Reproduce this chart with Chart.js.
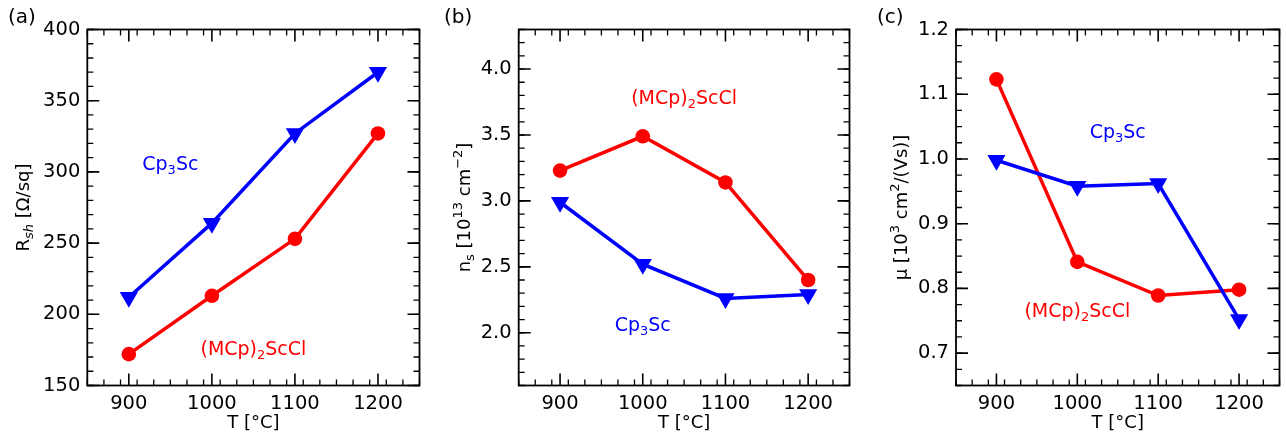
<!DOCTYPE html>
<html>
<head>
<meta charset="utf-8">
<script src="https://cdn.jsdelivr.net/npm/chart.js@4.4.1/dist/chart.umd.min.js"></script>
<style>
  body { margin: 0; background: #fff; overflow: hidden; width: 1286px; height: 436px; position: relative; }
  canvas { position: absolute; top: 0; }
</style>
</head>
<body>
<canvas id="chartA" width="430" height="436" style="left:0px"></canvas>
<canvas id="chartB" width="430" height="436" style="left:430px"></canvas>
<canvas id="chartC" width="430" height="436" style="left:860px"></canvas>
<script>
// growth temperature (°C)
const temps = [900, 1000, 1100, 1200];
// (a) sheet resistance, Ω/sq
const rshCp3Sc = [212, 264, 327, 370];
const rshMCp = [172, 213, 253, 327];
// (b) sheet carrier density, 10^13 cm^-2
const nsCp3Sc = [2.99, 2.52, 2.26, 2.29];
const nsMCp = [3.23, 3.49, 3.14, 2.40];
// (c) mobility, 10^3 cm^2/(Vs)
const muCp3Sc = [0.998, 0.958, 0.962, 0.752];
const muMCp = [1.123, 0.841, 0.789, 0.798];

const xTicks = [900, 1000, 1100, 1200];
const rshTicks = [150, 200, 250, 300, 350, 400];
const nsTicks = [2.0, 2.5, 3.0, 3.5, 4.0];
const muTicks = [0.7, 0.8, 0.9, 1.0, 1.1, 1.2];

const RED = '#ff0000';
const BLUE = '#0000ff';
const FONT = '"DejaVu Sans", sans-serif';

Chart.defaults.font.family = FONT;
Chart.defaults.color = '#000';

// draws text made of [string, mode] pieces, mode: '', 'sub', 'subi', 'sup'
function richText(ctx, parts, x, y, size, color, rot) {
  ctx.save();
  ctx.translate(x, y);
  if (rot) ctx.rotate(rot);
  ctx.fillStyle = color;
  ctx.textBaseline = 'middle';
  const fontFor = m => (m === 'subi' ? 'italic ' : '') + (m ? Math.round(size * 0.7) : size) + 'px ' + FONT;
  let w = 0;
  for (const [t, m] of parts) { ctx.font = fontFor(m); w += ctx.measureText(t).width; }
  let cx = -w / 2;
  for (const [t, m] of parts) {
    ctx.font = fontFor(m);
    let dy = 0;
    if (m === 'sub' || m === 'subi') dy = size * 0.3;
    if (m === 'sup') dy = -size * 0.35;
    ctx.textAlign = 'left';
    ctx.fillText(t, cx, dy);
    cx += ctx.measureText(t).width;
  }
  ctx.restore();
}

const framePlugin = {
  id: 'frame',
  afterDraw(chart, args, opts) {
    const ctx = chart.ctx;
    const a = chart.chartArea;
    const xs = chart.scales.x, ys = chart.scales.y;
    ctx.save();
    ctx.strokeStyle = '#000';
    ctx.lineWidth = 1.3;
    ctx.beginPath();
    const minorX = Math.round((xs.max - xs.min) / opts.xMinor);
    for (let i = 0; i <= minorX; i++) {
      const px = xs.getPixelForValue(xs.min + i * opts.xMinor);
      ctx.moveTo(px, a.bottom); ctx.lineTo(px, a.bottom - 6);
      ctx.moveTo(px, a.top); ctx.lineTo(px, a.top + 6);
    }
    const minorY = Math.round((ys.max - ys.min) / opts.yMinor);
    for (let i = 0; i <= minorY; i++) {
      const py = ys.getPixelForValue(ys.min + i * opts.yMinor);
      ctx.moveTo(a.left, py); ctx.lineTo(a.left + 6, py);
      ctx.moveTo(a.right, py); ctx.lineTo(a.right - 6, py);
    }
    ctx.stroke();
    ctx.lineWidth = 1.6;
    ctx.beginPath();
    for (const v of opts.xMajor) {
      const px = xs.getPixelForValue(v);
      ctx.moveTo(px, a.bottom); ctx.lineTo(px, a.bottom - 12);
      ctx.moveTo(px, a.top); ctx.lineTo(px, a.top + 12);
    }
    for (const v of opts.yMajor) {
      const py = ys.getPixelForValue(v);
      ctx.moveTo(a.left, py); ctx.lineTo(a.left + 12, py);
      ctx.moveTo(a.right, py); ctx.lineTo(a.right - 12, py);
    }
    ctx.stroke();
    ctx.lineWidth = 1.8;
    ctx.strokeRect(a.left, a.top, a.right - a.left, a.bottom - a.top);
    ctx.restore();

    // axis titles
    richText(ctx, [['T [°C]', '']], (a.left + a.right) / 2, 423, 18, '#000', 0);
    richText(ctx, opts.yTitle, opts.yTitleX, (a.top + a.bottom) / 2, 18, '#000', -Math.PI / 2);
    // panel letter
    ctx.save();
    ctx.font = '20px ' + FONT;
    ctx.fillStyle = '#000';
    ctx.textBaseline = 'middle';
    ctx.fillText(opts.letter, opts.letterX, 18);
    ctx.restore();
    // curve labels placed in data coordinates
    for (const n of opts.notes) {
      richText(ctx, n.parts, xs.getPixelForValue(n.x), ys.getPixelForValue(n.y), 19, n.color, 0);
    }
  }
};

const cp3 = [['Cp', ''], ['3', 'sub'], ['Sc', '']];
const mcp = [['(MCp)', ''], ['2', 'sub'], ['ScCl', '']];

function makePanel(id, cfg) {
  const ds = (data, color, style) => ({
    data: temps.map((t, i) => ({ x: t, y: data[i] })),
    borderColor: color,
    backgroundColor: color,
    borderWidth: 3.5,
    pointStyle: style,
    pointRadius: style === 'triangle' ? 10.5 : 7.3,
    pointRotation: style === 'triangle' ? 180 : 0,
    pointBorderWidth: 0,
    tension: 0
  });
  new Chart(document.getElementById(id), {
    type: 'line',
    data: {
      datasets: [
        ds(cfg.blue, BLUE, 'triangle'),
        ds(cfg.red, RED, 'circle')
      ]
    },
    options: {
      responsive: false,
      animation: false,
      layout: { padding: { left: 0, right: cfg.padRight, top: 29.5, bottom: 0 } },
      plugins: {
        legend: { display: false },
        tooltip: { enabled: false },
        frame: cfg.frame
      },
      scales: {
        x: {
          type: 'linear', min: 850, max: 1250,
          grid: { display: false, drawTicks: false },
          border: { display: false },
          afterBuildTicks: s => { s.ticks = xTicks.map(v => ({ value: v })); },
          afterFit: s => { s.height = 50.5; },
          ticks: { font: { size: 19.5 }, padding: 7, maxRotation: 0, callback: v => String(v) }
        },
        y: {
          type: 'linear', min: cfg.yMin, max: cfg.yMax,
          grid: { display: false, drawTicks: false },
          border: { display: false },
          afterBuildTicks: s => { s.ticks = cfg.yTicks.map(v => ({ value: v })); },
          afterFit: s => { s.width = cfg.yWidth; },
          ticks: { font: { size: 19.5 }, padding: 7, callback: v => v.toFixed(cfg.dec) }
        }
      }
    },
    plugins: [framePlugin]
  });
}

makePanel('chartA', {
  blue: rshCp3Sc, red: rshMCp, yMin: 150, yMax: 400, yTicks: rshTicks, dec: 0,
  yWidth: 87.3, padRight: 9,
  frame: {
    xMinor: 20, yMinor: 10, xMajor: xTicks, yMajor: rshTicks,
    yTitleX: 24, letter: '(a)', letterX: 8,
    yTitle: [['R', ''], ['sh', 'subi'], [' [Ω/sq]', '']],
    notes: [
      { parts: cp3, x: 950, y: 305, color: BLUE },
      { parts: mcp, x: 1050, y: 175, color: RED }
    ]
  }
});

makePanel('chartB', {
  blue: nsCp3Sc, red: nsMCp, yMin: 1.6, yMax: 4.3, yTicks: nsTicks, dec: 1,
  yWidth: 88.7, padRight: 8,
  frame: {
    xMinor: 20, yMinor: 0.1, xMajor: xTicks, yMajor: nsTicks,
    yTitleX: 35, letter: '(b)', letterX: 14,
    yTitle: [['n', ''], ['s', 'sub'], [' [10', ''], ['13', 'sup'], [' cm', ''], ['−2', 'sup'], [']', '']],
    notes: [
      { parts: mcp, x: 1050, y: 3.77, color: RED },
      { parts: cp3, x: 1000, y: 2.05, color: BLUE }
    ]
  }
});

makePanel('chartC', {
  blue: muCp3Sc, red: muMCp, yMin: 0.65, yMax: 1.2, yTicks: muTicks, dec: 1,
  yWidth: 96, padRight: 1.5,
  frame: {
    xMinor: 20, yMinor: 0.025, xMajor: xTicks, yMajor: muTicks,
    yTitleX: 42, letter: '(c)', letterX: 17,
    yTitle: [['μ [10', ''], ['3', 'sup'], [' cm', ''], ['2', 'sup'], ['/(Vs)]', '']],
    notes: [
      { parts: cp3, x: 1050, y: 1.04, color: BLUE },
      { parts: mcp, x: 1000, y: 0.763, color: RED }
    ]
  }
});
</script>
</body>
</html>
